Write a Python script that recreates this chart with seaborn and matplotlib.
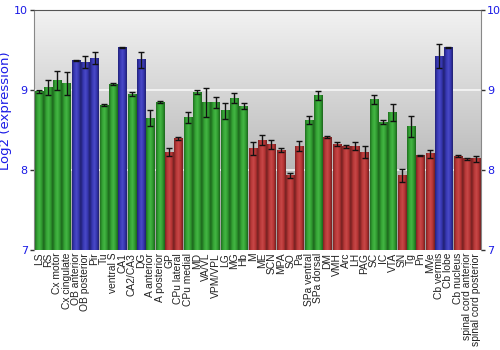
import numpy as np
import pandas as pd
import matplotlib
matplotlib.use("Agg")
import matplotlib.pyplot as plt
import seaborn as sns
from matplotlib.colors import LinearSegmentedColormap

regions = ["LS", "RS", "Cx motor", "Cx cingulate", "OB anterior", "OB posterior", "Pir", "Tu",
           "ventral S", "CA1", "CA2/CA3", "DG", "A anterior", "A posterior", "GP", "CPu lateral",
           "CPu medial", "MD", "VA/VL", "VPM/VPL", "LG", "MG", "Hb", "M", "ME", "SCN", "MPA",
           "SO", "Pa", "SPa ventral", "SPa dorsal", "DM", "VMH", "Arc", "LH", "PAG", "SC", "IC",
           "VTA", "SN", "Tg", "Pn", "MVe", "Cb vermis", "Cb lobe", "Cb nucleus",
           "spinal cord anterior", "spinal cord posterior"]
values = [8.98, 9.03, 9.12, 9.08, 9.37, 9.35, 9.40, 8.81,
          9.075, 9.53, 8.95, 9.38, 8.65, 8.85, 8.225, 8.39,
          8.66, 8.975, 8.84, 8.84, 8.74, 8.90, 8.80, 8.27, 8.375, 8.32, 8.25,
          7.93, 8.30, 8.625, 8.93, 8.41, 8.325, 8.295, 8.30, 8.225, 8.88, 8.60,
          8.72, 7.93, 8.545, 8.18, 8.205, 9.42, 9.53, 8.175,
          8.14, 8.14]
errors = [0.02, 0.09, 0.12, 0.14, 0.01, 0.08, 0.07, 0.01,
          0.01, 0.01, 0.02, 0.10, 0.10, 0.01, 0.05, 0.02,
          0.07, 0.02, 0.18, 0.07, 0.10, 0.06, 0.035, 0.08, 0.06, 0.06, 0.025,
          0.03, 0.06, 0.05, 0.06, 0.01, 0.03, 0.02, 0.05, 0.075, 0.055, 0.03,
          0.11, 0.085, 0.13, 0.01, 0.05, 0.15, 0.01, 0.01,
          0.01, 0.04]
groups = ["g", "g", "g", "g", "b", "b", "b", "g",
          "g", "b", "g", "b", "g", "g", "r", "r",
          "g", "g", "g", "g", "g", "g", "g", "r", "r", "r", "r",
          "r", "r", "g", "g", "r", "r", "r", "r", "r", "g", "g",
          "g", "r", "g", "r", "r", "b", "b", "r",
          "r", "r"]
y_ticks = [7, 8, 9, 10]

palette = {"g": "#2f9a2f", "b": "#3636b0", "r": "#b53434"}
shade = {
    "g": ["#1f6e1f", "#34a334", "#44b644", "#2f9a2f", "#1d641d"],
    "b": ["#22227a", "#3838b4", "#4a4ac8", "#3636b0", "#20206e"],
    "r": ["#7e2222", "#b83838", "#c84848", "#b53434", "#702020"],
}

df = pd.DataFrame({"region": regions, "value": values, "err": errors, "group": groups})

fig = plt.figure(figsize=(5, 3.5), dpi=100)
ax = fig.add_axes([0.068, 0.2857, 0.894, 0.6857])

# gradient background
bg = LinearSegmentedColormap.from_list("bg", ["#f2f2f2", "#c8c8c8", "#9c9c9c"])
grad = np.linspace(0, 1, 256).reshape(-1, 1)
ax.imshow(grad, extent=[0, 1, 0, 1], transform=ax.transAxes, cmap=bg,
          aspect="auto", zorder=0)

sns.barplot(data=df, x="region", y="value", hue="group", palette=palette,
            dodge=False, legend=False, errorbar=None, width=0.88, ax=ax,
            order=regions, zorder=2, linewidth=0)

ax.set_xlim(-0.5, len(regions) - 0.5)
ax.set_ylim(7, 10)
ax.set_autoscale_on(False)
ylo, yhi = ax.get_ylim()

# cylindrical shading for bars
for patch in list(ax.patches):
    x0, y0 = patch.get_x(), patch.get_y()
    w, h = patch.get_width(), patch.get_height()
    idx = int(round(x0 + w / 2))
    if idx < 0 or idx >= len(groups):
        continue
    key = groups[idx]
    cmap = LinearSegmentedColormap.from_list("s" + key, shade[key])
    bot = max(y0, ylo)
    top = min(y0 + h, yhi)
    if top <= bot:
        continue
    ax.imshow(np.linspace(0, 1, 64).reshape(1, -1), extent=[x0, x0 + w, bot, top],
              cmap=cmap, aspect="auto", zorder=2.5)

ax.set_xlim(-0.5, len(regions) - 0.5)
ax.set_ylim(7, 10)

ax.errorbar(np.arange(len(regions)), values, yerr=errors, fmt="none", ecolor="#111111",
            elinewidth=1.0, capsize=2.5, capthick=1.0, zorder=4)

ax.set_yticks(y_ticks)
ax.set_yticklabels([str(t) for t in y_ticks])
for t in [8, 9]:
    ax.axhline(t, color="white", lw=1.2, alpha=0.8, zorder=1)

ax.tick_params(axis="y", colors="#333333", labelcolor="#1a1ae6", labelsize=8,
               length=3, width=1, right=True, labelright=True, direction="out", pad=1.5)
ax.tick_params(axis="x", labelsize=7.4, labelcolor="#222222", length=0, pad=2)
for lab in ax.get_xticklabels():
    lab.set_rotation(90)
    lab.set_fontfamily("Liberation Sans")
ax.set_xlabel("")
ax.set_ylabel("Log2 (expression)", color="#1a1ae6", fontsize=9.5)
ax.yaxis.set_label_coords(-0.05, 0.58)

for s in ["left", "right"]:
    ax.spines[s].set_color("#888888")
ax.spines["top"].set_color("#555555")
ax.spines["bottom"].set_visible(False)

fig.savefig("out.png", dpi=100, facecolor="white")
